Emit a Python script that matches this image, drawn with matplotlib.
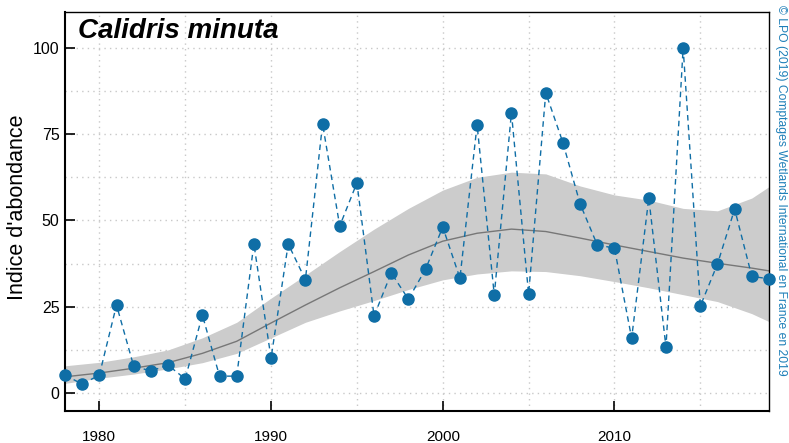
import matplotlib
matplotlib.use("Agg")
import matplotlib.pyplot as plt
import numpy as np

plt.rcParams['font.family'] = ['Liberation Sans', 'DejaVu Sans']

years = list(range(1978, 2020))
index_values = [5.2, 2.6, 5.2, 25.5, 7.8, 6.4, 8.1, 4.1, 22.6, 4.9,
                4.9, 43.2, 10.1, 43.2, 32.8, 78.0, 48.4, 60.9, 22.3, 34.8,
                27.2, 35.9, 48.1, 33.3, 77.7, 28.4, 81.2, 28.7, 87.0, 72.5,
                54.8, 42.9, 42.0, 15.9, 56.5, 13.3, 100.0, 25.2, 37.4, 53.3,
                33.8, 33.1]

trend_years = [1978, 1980, 1982, 1984, 1986, 1988, 1990, 1992, 1994, 1996, 1998,
               2000, 2002, 2004, 2006, 2008, 2010, 2012, 2014, 2016, 2018, 2019]
trend = [4.7, 5.8, 7.2, 8.8, 11.5, 15.0, 20.3, 25.5, 30.5, 35.2, 40.0,
         44.0, 46.3, 47.5, 46.8, 44.9, 42.9, 41.0, 39.1, 37.6, 36.2, 35.4]
upper = [7.9, 8.9, 10.5, 12.5, 16.0, 20.5, 27.5, 34.2, 41.0, 47.5, 53.5,
         58.8, 62.5, 64.0, 63.5, 60.0, 57.4, 55.9, 53.5, 52.8, 56.5, 59.8]
lower = [2.8, 4.3, 5.5, 7.0, 8.8, 11.5, 16.0, 20.5, 23.8, 26.8, 30.0,
         32.8, 34.5, 35.4, 35.2, 34.0, 32.3, 30.5, 28.5, 26.5, 23.0, 20.7]

x_ticks = [1980, 1990, 2000, 2010]
y_ticks = [0, 25, 50, 75, 100]

blue = '#0f6ea6'

fig = plt.figure(figsize=(7.89, 4.43), dpi=100)
ax = fig.add_axes([65/789, 32/443, 704/789, 399/443])

ax.fill_between(trend_years, lower, upper, color='#cccccc', linewidth=0, zorder=1)
ax.plot(trend_years, trend, color='#777777', linewidth=1.0, zorder=2)
ax.plot(years, index_values, color=blue, linestyle=(0, (4, 3)), linewidth=1.0, zorder=3)
ax.plot(years, index_values, 'o', color=blue, markersize=8, zorder=4, clip_on=False)

ax.set_xlim(1978, 2019)
ax.set_ylim(-5.2, 110.4)

ax.set_xticks(x_ticks)
ax.set_yticks(y_ticks)
ax.set_xticks(np.arange(1980, 2019, 5), minor=True)
ax.set_yticks(np.arange(0, 110, 12.5), minor=True)
ax.tick_params(axis='x', which='major', direction='in', length=7.2, width=1.2, pad=14, labelsize=11)
ax.tick_params(axis='y', which='major', direction='in', length=7.2, width=1.2, pad=4, labelsize=11.5)
ax.tick_params(which='minor', length=0)
ax.grid(which='both', color='#c8c8c8', linestyle=(0, (1, 3)), linewidth=1.0, zorder=0)
ax.set_axisbelow(True)

for side in ['left', 'bottom']:
    ax.spines[side].set_linewidth(1.5)
for side in ['top', 'right']:
    ax.spines[side].set_linewidth(1.0)

fig.text(18/789, 1 - 207.5/443, "Indice d'abondance", fontsize=15.5,
         rotation=90, ha='center', va='center')

ax.text(13/704, (411 - 38) / 399, 'Calidris minuta', transform=ax.transAxes, fontsize=20,
        fontweight='bold', fontstyle='italic', va='baseline', ha='left')

fig.text(781/789, 1 - 190/443, '© LPO (2019) Comptages Wetlands International en France en 2019',
         rotation=-90, color='#1f7fb8', fontsize=8.7, ha='center', va='center')

fig.savefig('out.png', dpi=100)
